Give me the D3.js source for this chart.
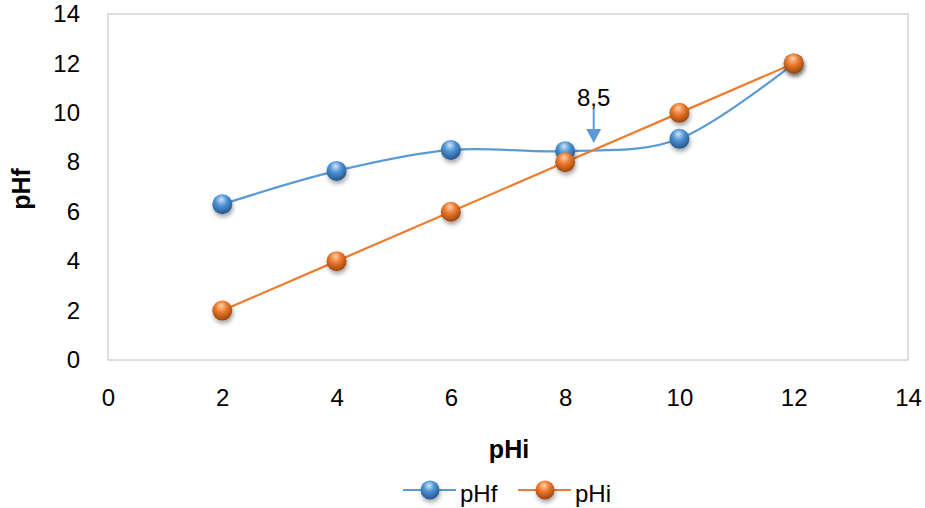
<!DOCTYPE html>
<html>
<head>
<meta charset="utf-8">
<script src="https://cdn.jsdelivr.net/npm/d3@7"></script>
<style>
  body { margin: 0; background: #fff; }
  text { font-family: "Liberation Sans", Arial, sans-serif; fill: #000; }
</style>
</head>
<body>
<script>
// data
var pHiValues = [2, 4, 6, 8, 10, 12];
var pHfValues = [6.3, 7.65, 8.5, 8.45, 8.95, 12];
var pHiLine = [2, 4, 6, 8, 10, 12];
var xTicks = [0, 2, 4, 6, 8, 10, 12, 14];
var yTicks = [0, 2, 4, 6, 8, 10, 12, 14];
var markLabel = '8,5';
var markX = 8.5;

var width = 925, height = 508;
var margin = {top: 14, right: 17, bottom: 148, left: 108};
var w = width - margin.left - margin.right,
  h = height - margin.top - margin.bottom;

var svg = d3.select(document.body).append('svg').attr('width', width).attr('height', height);

var defs = svg.append('defs');
function ball(id, light, mid, dark) {
  var g = defs.append('radialGradient').attr('id', id)
    .attr('cx', '45%').attr('cy', '35%').attr('r', '65%').attr('fx', '45%').attr('fy', '25%');
  g.append('stop').attr('offset', '0%').attr('stop-color', light);
  g.append('stop').attr('offset', '45%').attr('stop-color', mid);
  g.append('stop').attr('offset', '100%').attr('stop-color', dark);
}
ball('gBlue', '#cfe6fb', '#4f93d4', '#23558a');
ball('gOrange', '#fbd0ad', '#ec7a2c', '#9a4510');
var f = defs.append('filter').attr('id', 'shadow').attr('x', '-50%').attr('y', '-50%').attr('width', '200%').attr('height', '200%');
f.append('feDropShadow').attr('dx', 1).attr('dy', 3).attr('stdDeviation', 2).attr('flood-color', '#000').attr('flood-opacity', 0.35);

var x = d3.scaleLinear().domain([0, 14]).range([0, w]);
var y = d3.scaleLinear().domain([0, 14]).range([h, 0]);

var chart = svg.append('g').attr('transform', 'translate(' + margin.left + ',' + margin.top + ')');

// frame
chart.append('rect').attr('width', w).attr('height', h)
  .attr('fill', 'none').attr('stroke', '#d4d4d4').attr('stroke-width', 1.5);

// axes (labels only)
chart.append('g').attr('transform', 'translate(0,' + h + ')')
  .call(d3.axisBottom(x).tickValues(xTicks).tickSize(0).tickPadding(29))
  .call(function (g) { g.select('.domain').remove(); })
  .selectAll('text').style('font-size', '24px').style('font-family', '"Liberation Sans", Arial, sans-serif');

chart.append('g')
  .call(d3.axisLeft(y).tickValues(yTicks).tickSize(0).tickPadding(28))
  .call(function (g) { g.select('.domain').remove(); })
  .selectAll('text').style('font-size', '24px').style('font-family', '"Liberation Sans", Arial, sans-serif');

// axis titles
svg.append('text').attr('x', 509).attr('y', 458).attr('text-anchor', 'middle')
  .style('font-size', '25px').style('font-weight', 'bold').text('pHi');
svg.append('text').attr('transform', 'translate(30,189) rotate(-90)')
  .attr('text-anchor', 'middle').style('font-size', '25px').style('font-weight', 'bold').text('pHf');

var blue = '#5b9bd5', orange = '#ed7d31';

var fData = pHiValues.map(function (d, i) { return [d, pHfValues[i]]; });
var iData = pHiValues.map(function (d, i) { return [d, pHiLine[i]]; });

var smooth = d3.line().x(function (d) { return x(d[0]); }).y(function (d) { return y(d[1]); })
  .curve(d3.curveCatmullRom.alpha(0));
var straight = d3.line().x(function (d) { return x(d[0]); }).y(function (d) { return y(d[1]); });

chart.append('path').datum(fData).attr('d', smooth)
  .attr('fill', 'none').attr('stroke', blue).attr('stroke-width', 2.25);
chart.append('path').datum(iData).attr('d', straight)
  .attr('fill', 'none').attr('stroke', orange).attr('stroke-width', 2.25);

function dots(data, grad) {
  chart.selectAll(null).data(data).enter().append('circle')
    .attr('cx', function (d) { return x(d[0]); })
    .attr('cy', function (d) { return y(d[1]); })
    .attr('r', 10)
    .attr('fill', 'url(#' + grad + ')')
    .attr('filter', 'url(#shadow)');
}
dots(fData, 'gBlue');
dots(iData, 'gOrange');

// annotation arrow
var ax = x(markX);
chart.append('text').attr('x', ax).attr('y', 92).attr('text-anchor', 'middle')
  .style('font-size', '24px').text(markLabel);
chart.append('line').attr('x1', ax).attr('x2', ax).attr('y1', 95).attr('y2', 117)
  .attr('stroke', blue).attr('stroke-width', 2);
chart.append('path')
  .attr('d', 'M' + (ax - 7.5) + ',115 L' + (ax + 7.5) + ',115 L' + ax + ',129 Z')
  .attr('fill', blue);

// legend
var legend = svg.append('g').attr('transform', 'translate(0,490)');
[['pHf', blue, 'gBlue', 403], ['pHi', orange, 'gOrange', 518]].forEach(function (d) {
  legend.append('line').attr('x1', d[3]).attr('x2', d[3] + 53).attr('y1', 0).attr('y2', 0)
    .attr('stroke', d[1]).attr('stroke-width', 2);
  legend.append('circle').attr('cx', d[3] + 27).attr('cy', 0).attr('r', 9.5)
    .attr('fill', 'url(#' + d[2] + ')').attr('filter', 'url(#shadow)');
  legend.append('text').attr('x', d[3] + 57).attr('y', 12).style('font-size', '24px').text(d[0]);
});
</script>
</body>
</html>
